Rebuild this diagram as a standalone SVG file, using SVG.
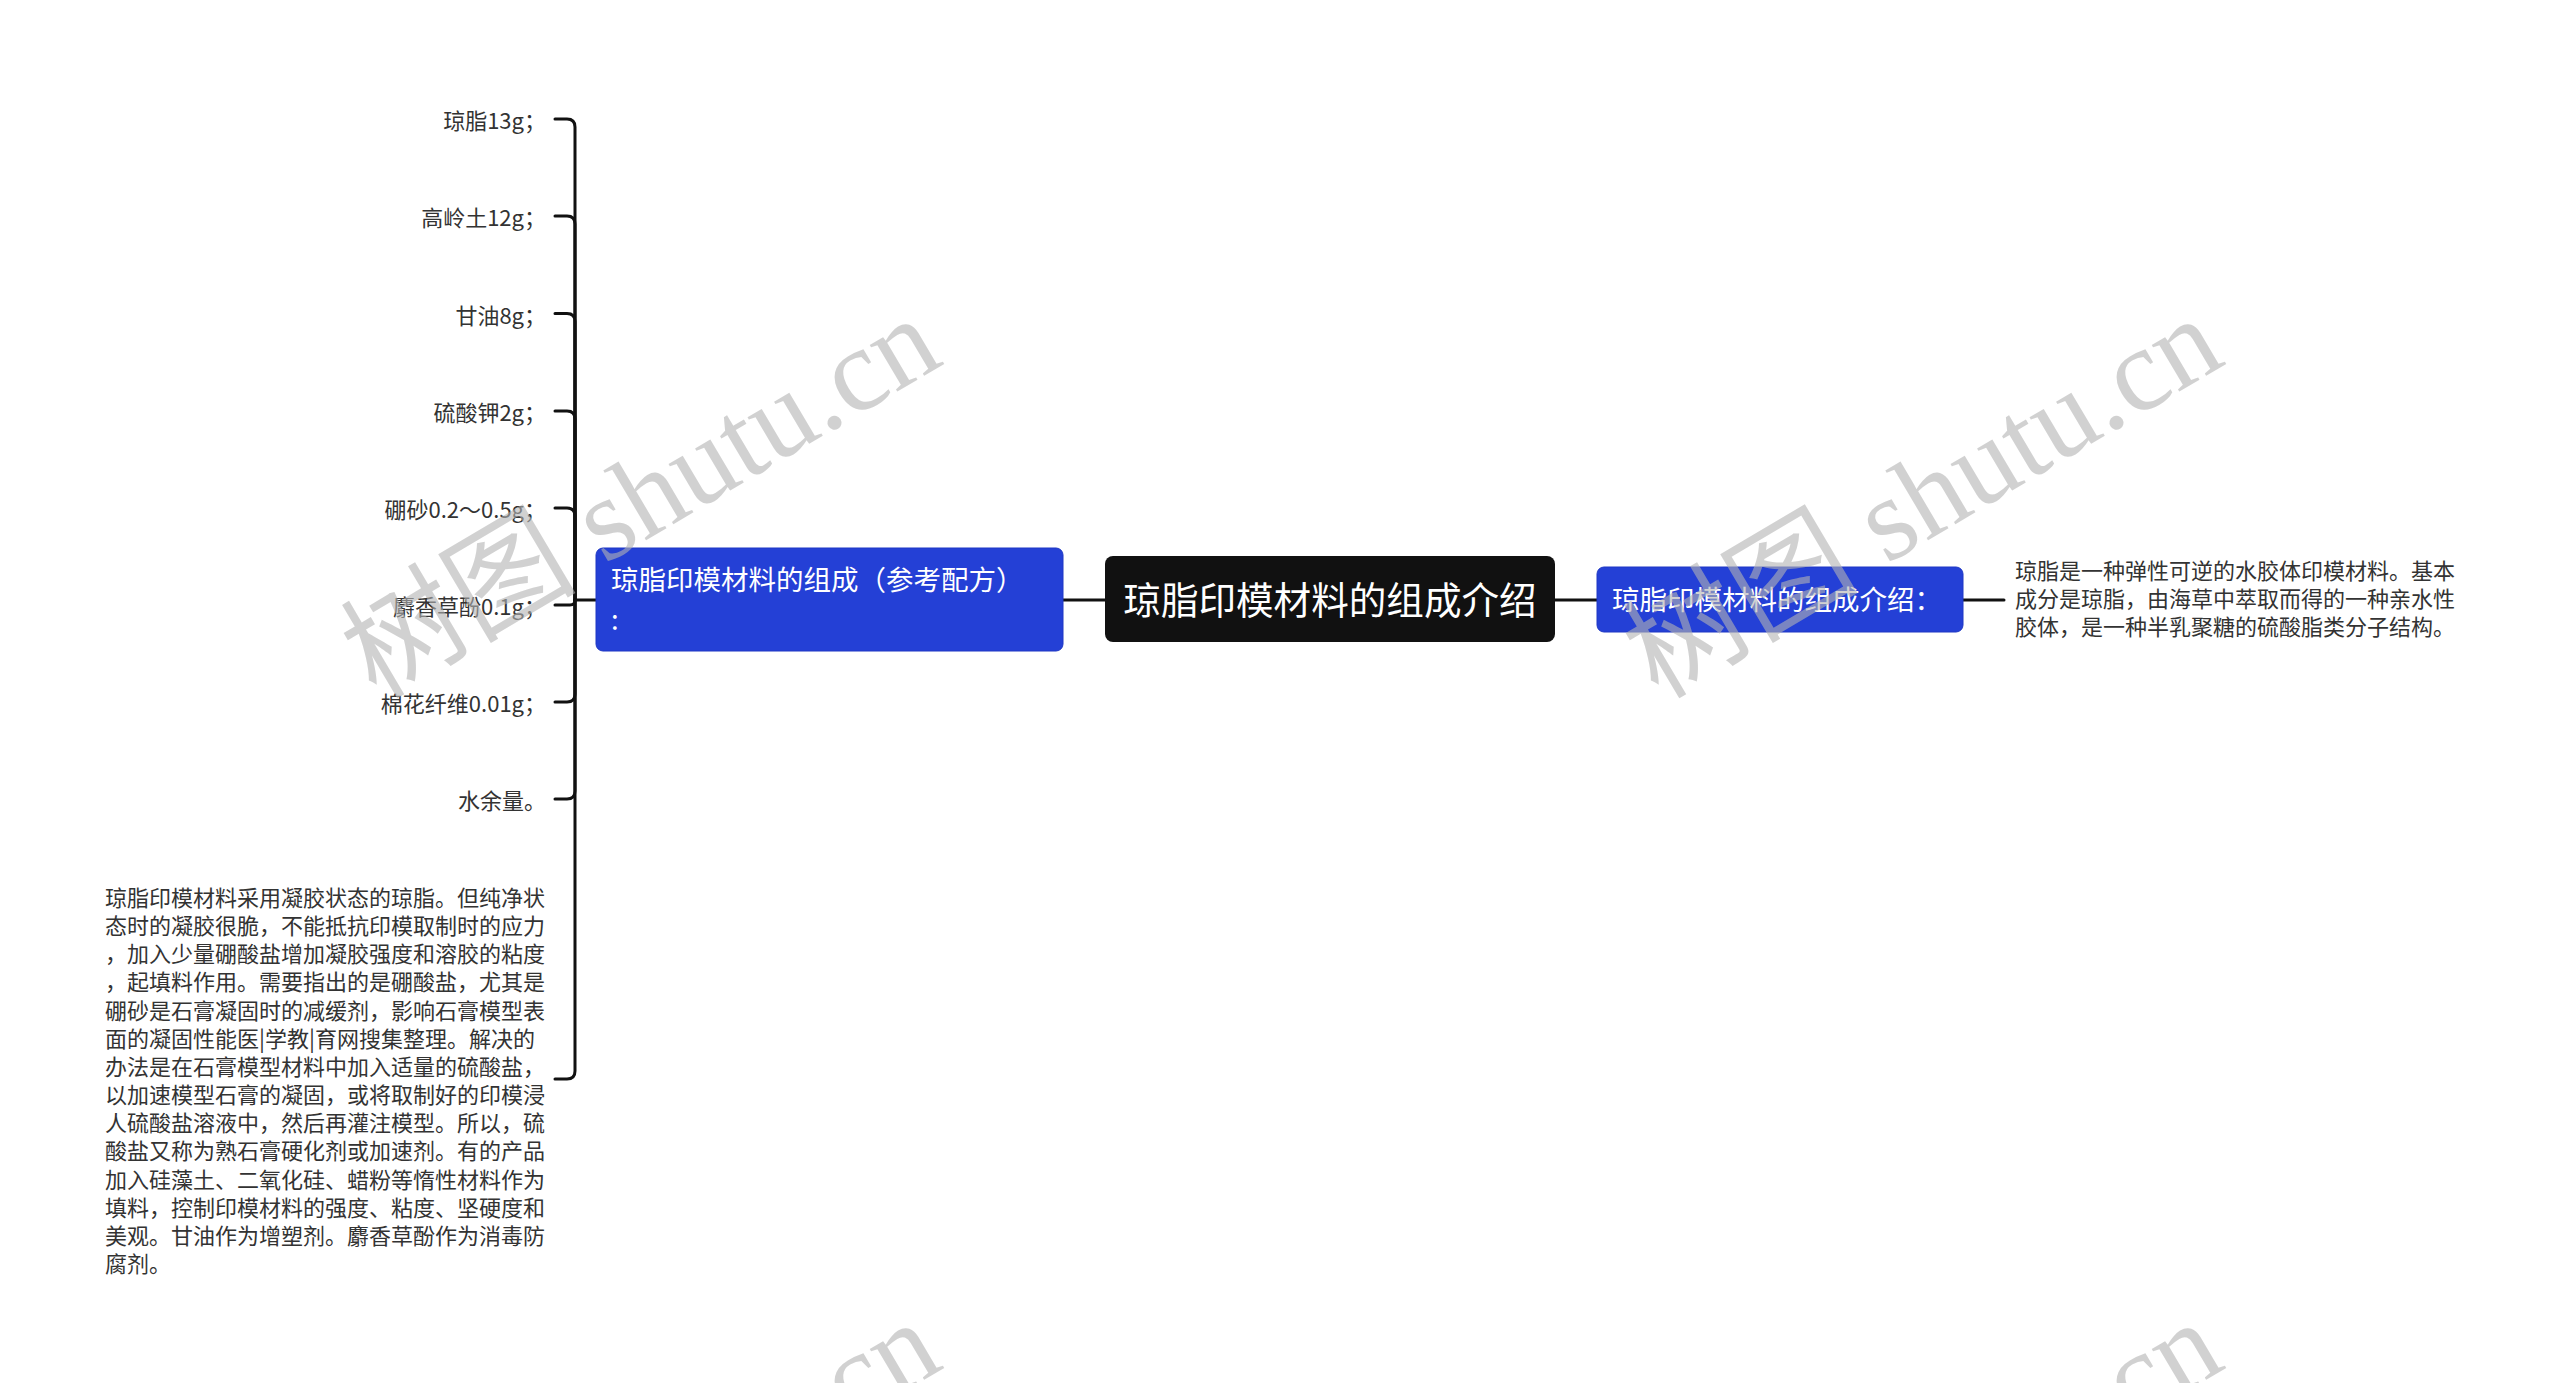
<svg xmlns="http://www.w3.org/2000/svg" width="2560" height="1383" viewBox="0 0 2560 1383">
<style>
.bg{fill:#ffffff}
.conn{fill:none;stroke:#111111;stroke-width:3;stroke-linecap:round}
.lbl{font-family:"Noto Sans CJK SC","Noto Sans",sans-serif;font-size:22px;fill:#333333}
.blue{fill:#2440d6;stroke:#1e37c4;stroke-width:1}
.blt{font-family:"Noto Sans CJK SC","Noto Sans",sans-serif;font-size:27.5px;fill:#ffffff}
.root{fill:#111111}
.rtt{font-family:"Noto Sans CJK SC","Noto Sans",sans-serif;font-size:37.6px;fill:#ffffff}
.wm{font-family:"Liberation Serif","Noto Sans CJK SC",serif;font-size:118px;fill:#b4b4b4;opacity:0.6}
</style>
<rect class="bg" x="0" y="0" width="2560" height="1383"/>
<g id="connectors">
<path class="conn" d="M1063,600 H1105"/>
<path class="conn" d="M1555,600 H1597"/>
<path class="conn" d="M1963,600 H2004"/>
<path class="conn" d="M596,600 H575"/>
<path class="conn" d="M575,600 V127 Q575,119 567,119 H555"/>
<path class="conn" d="M575,600 V224 Q575,216 567,216 H555"/>
<path class="conn" d="M575,600 V321.5 Q575,313.5 567,313.5 H555"/>
<path class="conn" d="M575,600 V419 Q575,411 567,411 H555"/>
<path class="conn" d="M575,600 V516 Q575,508 567,508 H555"/>
<path class="conn" d="M575,600 Q575,605 570,605 H555"/>
<path class="conn" d="M575,600 V694 Q575,702 567,702 H555"/>
<path class="conn" d="M575,600 V791 Q575,799 567,799 H555"/>
<path class="conn" d="M575,600 V1071 Q575,1079 567,1079 H555"/>
</g>
<g id="root">
<rect class="root" x="1105" y="556" width="450" height="86" rx="8"/>
<text class="rtt" x="1330" y="614" text-anchor="middle">琼脂印模材料的组成介绍</text>
</g>
<g id="formula">
<rect class="blue" x="596" y="548" width="467" height="103" rx="7"/>
<text class="blt" x="611" y="590">琼脂印模材料的组成（参考配方）</text>
<text class="blt" x="611" y="630">:</text>
</g>
<g id="intro">
<rect class="blue" x="1597" y="567" width="366" height="65" rx="7"/>
<text class="blt" x="1612" y="610">琼脂印模材料的组成介绍：</text>
</g>
<g id="intro-text">
<text class="lbl" x="2015" y="579">琼脂是一种弹性可逆的水胶体印模材料。基本</text>
<text class="lbl" x="2015" y="607">成分是琼脂，由海草中萃取而得的一种亲水性</text>
<text class="lbl" x="2015" y="635">胶体，是一种半乳聚糖的硫酸脂类分子结构。</text>
</g>
<g id="item1"><text class="lbl" x="546" y="129" text-anchor="end">琼脂13g；</text></g>
<g id="item2"><text class="lbl" x="546" y="226" text-anchor="end">高岭土12g；</text></g>
<g id="item3"><text class="lbl" x="546" y="323.5" text-anchor="end">甘油8g；</text></g>
<g id="item4"><text class="lbl" x="546" y="421" text-anchor="end">硫酸钾2g；</text></g>
<g id="item5"><text class="lbl" x="546" y="518" text-anchor="end">硼砂0.2～0.5g；</text></g>
<g id="item6"><text class="lbl" x="546" y="615" text-anchor="end">麝香草酚0.1g；</text></g>
<g id="item7"><text class="lbl" x="546" y="712" text-anchor="end">棉花纤维0.01g；</text></g>
<g id="item8"><text class="lbl" x="546" y="809" text-anchor="end">水余量。</text></g>
<g id="item9">
<text class="lbl" x="105" y="906">琼脂印模材料采用凝胶状态的琼脂。但纯净状</text>
<text class="lbl" x="105" y="934.15">态时的凝胶很脆，不能抵抗印模取制时的应力</text>
<text class="lbl" x="105" y="962.3">，加入少量硼酸盐增加凝胶强度和溶胶的粘度</text>
<text class="lbl" x="105" y="990.45">，起填料作用。需要指出的是硼酸盐，尤其是</text>
<text class="lbl" x="105" y="1018.6">硼砂是石膏凝固时的减缓剂，影响石膏模型表</text>
<text class="lbl" x="105" y="1046.75">面的凝固性能医|学教|育网搜集整理。解决的</text>
<text class="lbl" x="105" y="1074.9">办法是在石膏模型材料中加入适量的硫酸盐，</text>
<text class="lbl" x="105" y="1103.05">以加速模型石膏的凝固，或将取制好的印模浸</text>
<text class="lbl" x="105" y="1131.2">人硫酸盐溶液中，然后再灌注模型。所以，硫</text>
<text class="lbl" x="105" y="1159.35">酸盐又称为熟石膏硬化剂或加速剂。有的产品</text>
<text class="lbl" x="105" y="1187.5">加入硅藻土、二氧化硅、蜡粉等惰性材料作为</text>
<text class="lbl" x="105" y="1215.65">填料，控制印模材料的强度、粘度、坚硬度和</text>
<text class="lbl" x="105" y="1243.8">美观。甘油作为增塑剂。麝香草酚作为消毒防</text>
<text class="lbl" x="105" y="1271.95">腐剂。</text>
</g>
<g id="watermark">
<text class="wm" transform="translate(376,700) rotate(-30.6)">树图 shutu.cn</text>
<text class="wm" transform="translate(1658,700) rotate(-30.6)">树图 shutu.cn</text>
<text class="wm" transform="translate(376,1704) rotate(-30.6)">树图 shutu.cn</text>
<text class="wm" transform="translate(1658,1704) rotate(-30.6)">树图 shutu.cn</text>
</g>
</svg>
